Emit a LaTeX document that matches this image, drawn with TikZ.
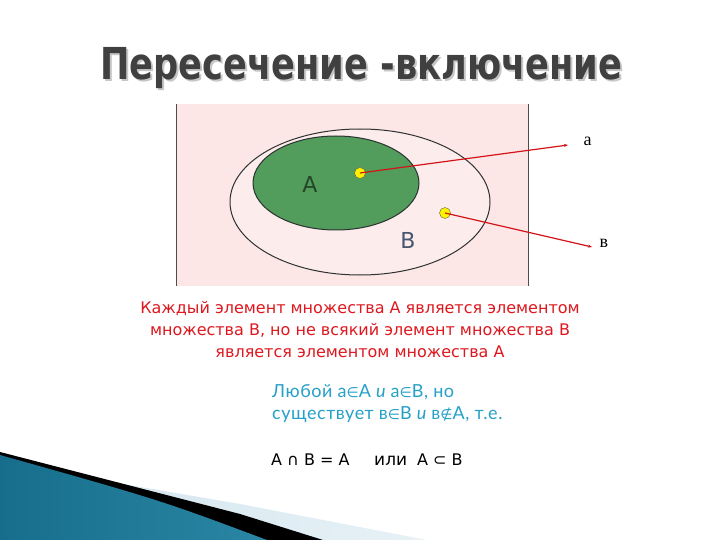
\documentclass[tikz,border=0pt]{standalone}
\usepackage{fontspec}
\setmainfont{DejaVu Sans}
\newfontfamily\titlefont{DejaVu Sans}
\newfontfamily\bodyfont[LetterSpace=3]{Lato}
\newfontfamily\symfont{DejaVu Sans}
\newfontfamily\letterfont{Liberation Serif}
\usetikzlibrary{arrows.meta}

\definecolor{titlegray}{RGB}{64,64,64}
\definecolor{setpink}{RGB}{252,230,230}
\definecolor{setgreen}{RGB}{82,156,92}
\definecolor{setline}{RGB}{45,50,50}
\definecolor{pointred}{RGB}{210,20,25}
\definecolor{textred}{RGB}{222,24,30}
\definecolor{textcyan}{RGB}{38,160,200}
\definecolor{tealdark}{RGB}{22,110,140}
\definecolor{teallight}{RGB}{88,190,220}
\definecolor{bandblue}{RGB}{208,228,238}

\tikzset{
  dot/.style={circle, draw=black!70!yellow, fill=yellow, inner sep=0pt, minimum size=11pt},
  pointer/.style={pointred, line width=1.2pt, -{Stealth[length=4pt,width=3pt]}},
  letter/.style={font=\letterfont\fontsize{18}{18}\selectfont},
  redline/.style={text=textred, font=\fontsize{16}{16}\selectfont, anchor=base},
  cyanline/.style={anchor=base west, inner sep=0pt, text=textcyan, font=\bodyfont\fontsize{18}{18}\selectfont},
  formula/.style={anchor=base west, inner sep=0pt, font=\fontsize{16}{16}\selectfont},
  titletext/.style={anchor=base west, inner sep=0pt, xscale=0.8, font=\titlefont\bfseries\fontsize{44}{44}\selectfont},
}

\begin{document}
\begin{tikzpicture}[x=1pt, y=-1pt, line join=round]
  \useasboundingbox (0,0) rectangle (720,540);
  \fill[white] (0,0) rectangle (720,540);
  % corner bands
  \shade[left color=bandblue, right color=bandblue!50]
    (0,463) -- (240,504) -- (427,540) -- (0,540) -- cycle;
  \fill[black] (0,452) -- (240,514) -- (323,540) -- (0,540) -- cycle;
  \shade[left color=tealdark, middle color=teallight, right color=tealdark!70!teallight]
    (0,455) .. controls (160,500) .. (267,540) -- (0,540) -- cycle;
  % title
  \node[titletext, text=black!22] at (102,82) {Пересечение -включение};
  \node[titletext, text=titlegray] (title) at (100,80) {Пересечение -включение};
  % sets
  \fill[setpink] (176,104) rectangle (528,286);
  \draw[black!70] (176,104) -- (176,286);
  \draw[black!70] (528,104) -- (528,286);
  \draw[setline, line width=1pt, fill=setpink!75] (360,202) ellipse [x radius=130, y radius=73];
  \draw[setline, line width=1pt, fill=setgreen] (336,183) ellipse [x radius=83, y radius=47];
  \node[text=black!55!setgreen, font=\fontsize{22}{22}\selectfont] (setA) at (310,184) {A};
  \node[text={rgb,255:red,70;green,86;blue,110}, font=\fontsize{22}{22}\selectfont] (setB) at (408,240) {B};
  % elements
  \coordinate (endA) at (568,145);
  \coordinate (endB) at (592,247);
  \node[letter, anchor=west] (labA) at (580,141) {а};
  \node[letter, anchor=west] (labB) at (596,243) {в};
  \node[dot] (dotA) at (360,173) {};
  \node[dot] (dotB) at (445,213) {};
  \draw[pointer] (dotA.center) -- (endA);
  \draw[pointer] (dotB.center) -- (endB);
  % statement
  \node[redline] (line1) at (360,313) {Каждый элемент множества А является элементом};
  \node[redline] (line2) at (360,335) {множества В, но не всякий элемент множества В};
  \node[redline] (line3) at (360,357) {является элементом множества А};
  % example
  \node[cyanline] (ex1) at (272,397)
    {Любой а{\symfont\fontsize{14}{14}\selectfont∈}А {\itshape и} а{\symfont\fontsize{14}{14}\selectfont∈}В, но};
  \node[cyanline] (ex2) at (272,419)
    {существует в{\symfont\fontsize{14}{14}\selectfont∈}В {\itshape и} в{\symfont\fontsize{14}{14}\selectfont∉}А, т.е.};
  % formulas
  \node[formula] (eq1) at (271,465) {А ∩ В = А};
  \node[formula, font=\fontsize{17}{17}\selectfont] (eq2) at (374,465) {или};
  \node[formula] (eq3) at (417,465) {А ⊂ В};
\end{tikzpicture}
\end{document}
